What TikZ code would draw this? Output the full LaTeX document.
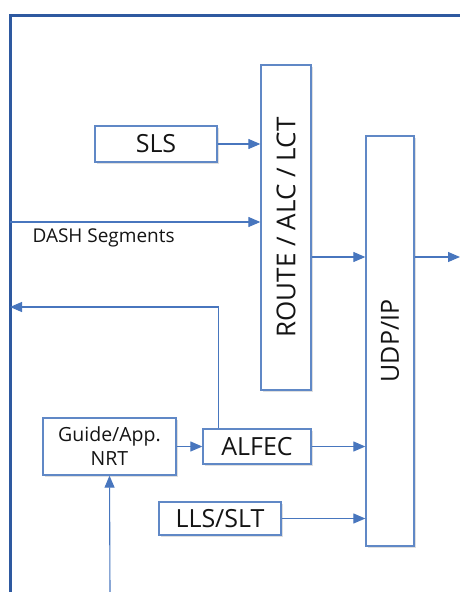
\documentclass[tikz,border=0pt]{standalone}
\usepackage{fontspec}
\setmainfont{Open Sans}
\usepackage{xcolor}
\usepackage{tikz}
\usetikzlibrary{arrows.meta,positioning,calc,shadows}
\definecolor{frameblue}{RGB}{46,89,160}
\definecolor{boxblue}{RGB}{96,136,198}
\definecolor{arrowblue}{RGB}{72,118,190}
\definecolor{textgray}{RGB}{20,20,20}

\begin{document}
\begin{tikzpicture}[
  x=1pt, y=-1pt,
  every node/.style={text=textgray},
  blk/.style={draw=boxblue, line width=1.3pt, fill=white, inner sep=0pt,
    drop shadow={shadow xshift=1.5pt, shadow yshift=-1.5pt, opacity=0.25, fill=gray},
    font=\fontsize{25}{28}\selectfont},
  arr/.style={-{Triangle[length=12pt, width=10pt]}, draw=arrowblue, line width=1.1pt}
]
  % Canvas and outer frame (only top and left edges visible)
  \useasboundingbox (0,0) rectangle (460,592);
  \clip (0,0) rectangle (460,592);
  \draw[frameblue, line width=3pt] (10,15) rectangle (500,640);

  % Free ends on the frame
  \coordinate (dashin) at (10,222);
  \coordinate (ret) at (10,307);
  \coordinate (out) at (460,257);
  \coordinate (nrtin) at (110,592);

  % Blocks
  \node[blk, minimum width=122pt, minimum height=36pt] (sls) at (156,144) {SLS};
  \node[blk, minimum width=50pt, minimum height=325pt] (route) at (286,227.5) {};
  \node[rotate=90, font=\fontsize{26}{28}\selectfont] (routetxt) at (route.center) {ROUTE / ALC / LCT};
  \node[blk, minimum width=48pt, minimum height=410pt] (udp) at (390,341) {};
  \node[rotate=90, font=\fontsize{25}{28}\selectfont] (udptxt) at (udp.center) {UDP/IP};
  \node[blk, minimum width=133pt, minimum height=57pt, align=center,
    font=\fontsize{19.5}{24}\selectfont] (guide) at (109.5,446.5) {Guide/App.\\NRT};
  \node[blk, minimum width=108pt, minimum height=35pt] (alfec) at (257,446.5) {ALFEC};
  \node[blk, minimum width=122pt, minimum height=33pt] (lls) at (220,518.5) {LLS/SLT};

  % Connectors
  \draw[arr] (sls.east) -- (sls.east -| route.west);
  \draw[arr] (dashin) -- (dashin -| route.west);
  \node[anchor=west, font=\fontsize{19}{22}\selectfont] (dashlbl) at (29,238) {DASH Segments};
  \draw[arr] (route.east |- out) -- (udp.west |- out);
  \draw[arr] (udp.east |- out) -- (out);
  \draw[arr] ($(alfec.north west)+(16,0)$) |- (ret);
  \draw[arr] (guide.east) -- (alfec.west);
  \draw[arr] (alfec.east) -- (alfec.east -| udp.west);
  \draw[arr] (lls.east) -- (lls.east -| udp.west);
  \draw[arr] (nrtin) -- (guide.south);

\end{tikzpicture}
\end{document}
